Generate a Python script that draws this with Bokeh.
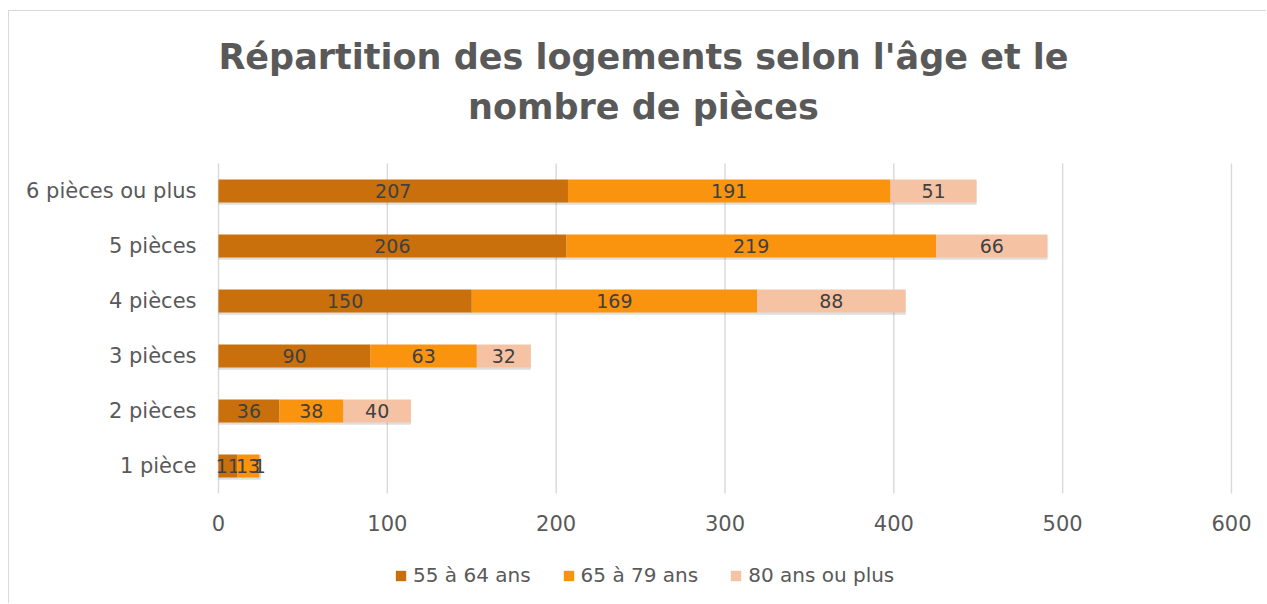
from bokeh.plotting import figure
from bokeh.models import ColumnDataSource, Range1d, FixedTicker, Label, Legend, LegendItem
from bokeh.core.properties import value
from bokeh.transform import dodge
from bokeh.embed import file_html
from bokeh.resources import INLINE

categories = ["1 pièce", "2 pièces", "3 pièces", "4 pièces", "5 pièces", "6 pièces ou plus"]
s55_64 = [11, 36, 90, 150, 206, 207]
s65_79 = [13, 38, 63, 169, 219, 191]
s80_plus = [1, 40, 32, 88, 66, 51]
series_names = ["55 à 64 ans", "65 à 79 ans", "80 ans ou plus"]
colors = ["#C9700C", "#FA930E", "#F5C3A3"]
x_ticks = [0, 100, 200, 300, 400, 500, 600]
title_lines = ["Répartition des logements selon l'âge et le", "nombre de pièces"]

FONT = "DejaVu Sans"
GREY = "#595959"

ypos = [i + 0.5 for i in range(len(categories))]

p = figure(width=1258, height=593, x_range=Range1d(-10.66, 616.0), y_range=Range1d(-2.018, 8.764),
           output_backend="svg", toolbar_location=None,
           min_border_left=191, min_border_right=9, min_border_top=0, min_border_bottom=0)
p.styles = {"margin-left": "8px", "margin-top": "10px",
            "border-left": "1px solid #D9D9D9", "border-top": "1px solid #D9D9D9"}
p.outline_line_color = None
p.grid.grid_line_color = None

p.xaxis.ticker = FixedTicker(ticks=x_ticks)
p.xaxis.fixed_location = 0
p.yaxis.ticker = FixedTicker(ticks=ypos)
p.yaxis.major_label_overrides = {y: c for y, c in zip(ypos, categories)}
for ax in (p.xaxis, p.yaxis):
    ax.axis_line_color = None
    ax.major_tick_line_color = None
    ax.minor_tick_line_color = None
    ax.major_tick_out = 0
    ax.major_tick_in = 0
    ax.major_label_text_font = FONT
    ax.major_label_text_font_size = "21px"
    ax.major_label_text_color = GREY
p.yaxis.major_label_standoff = 4
p.xaxis.major_label_standoff = 21

# vertical gridlines over the bar area
grid_src = ColumnDataSource(dict(x=x_ticks, y0=[0] * len(x_ticks), y1=[len(categories)] * len(x_ticks)))
p.segment(x0="x", x1="x", y0="y0", y1="y1", source=grid_src, line_color="#D9D9D9", line_width=1.4)

series = [s55_64, s65_79, s80_plus]
lefts = []
acc = [0] * len(categories)
for s in series:
    lefts.append(list(acc))
    acc = [a + v for a, v in zip(acc, s)]
totals = acc

# soft shadow under the bars
shadow = ColumnDataSource(dict(y=ypos, right=totals))
p.hbar(y=dodge("y", -0.04), left=0, right="right", height=0.42,
       source=shadow, fill_color="black", fill_alpha=0.13, line_color=None)

items = []
for name, s, l, c in zip(series_names, series, lefts, colors):
    src = ColumnDataSource(dict(y=ypos, left=l, right=[a + b for a, b in zip(l, s)],
                                mid=[a + b / 2 for a, b in zip(l, s)], lab=[str(v) for v in s]))
    r = p.hbar(y="y", left="left", right="right", height=0.42, source=src,
               fill_color=c, line_color=None)
    p.text(x="mid", y="y", text="lab", source=src, text_align="center", text_baseline="middle",
           text_font=value(FONT), text_font_size="19px", text_color="#404040")
    items.append(LegendItem(label=name, renderers=[r]))

legend = Legend(items=items, orientation="horizontal", location=(194, 17),
                label_text_font=FONT, label_text_font_size="20px", label_text_color=GREY,
                glyph_width=13, glyph_height=13, spacing=31, padding=0, margin=0,
                label_standoff=6, border_line_color=None, background_fill_alpha=0)
p.add_layout(legend, "center")

title_x = (643 - 218) / 1013 * 600
title_y = [7.945, 7.036]
for t, ty in zip(title_lines, title_y):
    p.add_layout(Label(x=title_x, y=ty, text=t, text_align="center", text_baseline="middle",
                       text_font=FONT, text_font_size="35px", text_font_style="bold",
                       text_color=GREY))

open("out.html", "w").write(file_html(p, INLINE))
